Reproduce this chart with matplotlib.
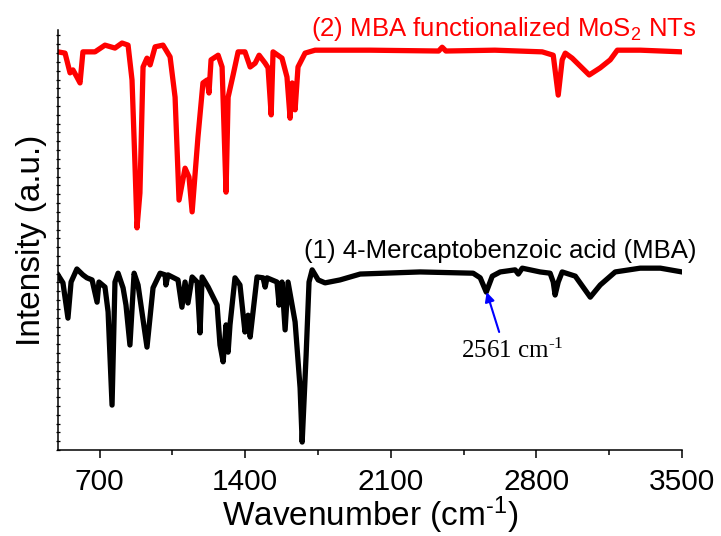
import numpy as np
import matplotlib
matplotlib.use("Agg")
import matplotlib.pyplot as plt
from matplotlib.ticker import MultipleLocator

plt.rcParams['font.family'] = ['Liberation Sans', 'DejaVu Sans']
plt.rcParams['mathtext.default'] = 'regular'

# (2) MBA functionalized MoS2 NTs - wavenumber (cm-1) and intensity (a.u.)
red_wn = [500, 534, 558, 572, 591, 606, 620, 678, 726, 774, 808, 837, 856, 870, 880,
          894, 909, 928, 943, 967, 1005, 1039, 1063, 1082, 1111, 1130, 1145, 1173,
          1197, 1217, 1226, 1236, 1270, 1289, 1308, 1318, 1342, 1366, 1399, 1424,
          1448, 1467, 1496, 1510, 1525, 1534, 1577, 1601, 1616, 1626, 1640, 1654,
          1688, 1736, 2000, 2330, 2347, 2365, 2600, 2828, 2881, 2905, 2924, 2939,
          2972, 3054, 3107, 3155, 3189, 3300, 3500]
red_int = [94.8, 94.5, 89.8, 90.5, 88.8, 87.4, 94.8, 94.8, 96.4, 95.7, 96.9, 96.4,
           88.1, 68.3, 52.9, 61.2, 91.2, 93.3, 91.7, 96.0, 96.4, 93.6, 84.0, 59.5,
           67.1, 65.0, 56.7, 74.5, 87.4, 88.1, 85.0, 92.9, 94.0, 91.2, 61.4, 84.0,
           89.3, 94.8, 94.8, 91.2, 92.1, 94.0, 92.1, 91.0, 79.8, 94.8, 93.3, 88.8,
           79.0, 87.4, 81.0, 91.2, 94.5, 95.2, 95.2, 95.0, 95.9, 95.0, 95.2, 94.8,
           94.0, 84.5, 92.9, 94.5, 93.3, 89.3, 91.0, 92.9, 95.2, 95.2, 94.8]

# (1) 4-Mercaptobenzoic acid (MBA)
blk_wn = [500, 524, 548, 563, 591, 620, 639, 664, 688, 697, 726, 741, 760, 774, 789,
          813, 827, 846, 866, 885, 928, 957, 991, 1015, 1019, 1029, 1077, 1096, 1111,
          1125, 1145, 1169, 1183, 1193, 1222, 1265, 1279, 1294, 1308, 1318, 1327,
          1351, 1375, 1399, 1414, 1424, 1457, 1486, 1496, 1505, 1553, 1563, 1577,
          1592, 1606, 1640, 1664, 1674, 1693, 1707, 1722, 1751, 1784, 1856, 1953,
          2241, 2496, 2530, 2559, 2588, 2626, 2698, 2713, 2732, 2818, 2866, 2881,
          2890, 2905, 2924, 2987, 3059, 3107, 3179, 3299, 3396, 3500]
blk_int = [41.7, 39.8, 31.4, 40.0, 43.1, 41.7, 41.0, 40.5, 35.2, 40.0, 38.8, 32.9,
           10.7, 40.0, 42.1, 38.6, 34.5, 25.0, 42.1, 39.3, 24.5, 38.6, 42.1, 41.7,
           39.3, 41.7, 40.5, 34.0, 40.0, 35.0, 41.2, 40.0, 27.9, 41.2, 38.8, 34.5,
           25.0, 21.0, 29.8, 23.3, 29.8, 41.0, 39.3, 28.1, 32.1, 26.9, 41.2, 41.0,
           38.8, 41.0, 40.0, 34.5, 40.0, 28.6, 40.0, 30.5, 14.8, 1.9, 22.6, 40.0,
           42.9, 40.5, 39.8, 40.5, 41.9, 42.4, 42.1, 41.0, 37.6, 41.4, 42.4, 42.9,
           41.9, 43.3, 42.4, 42.1, 40.0, 36.9, 40.0, 42.4, 41.4, 36.4, 39.3, 42.4,
           43.3, 43.3, 42.4]

xticks = [700, 1400, 2100, 2800, 3500]

fig = plt.figure(figsize=(7.21, 5.36), dpi=100)
ax = fig.add_axes([0.0804, 0.1604, 0.8655, 0.7836])

ax.plot(red_wn, red_int, color='#ff0000', lw=3.8, solid_joinstyle='round')
ax.plot(blk_wn, blk_int, color='black', lw=3.8, solid_joinstyle='round')

ax.set_xlim(500, 3500)
ax.set_ylim(0, 100)
ax.set_xticks(xticks)
ax.xaxis.set_minor_locator(MultipleLocator(350))
ax.set_yticks([])
ax.yaxis.set_minor_locator(MultipleLocator(2.1))
ax.tick_params(axis='x', which='major', direction='out', length=6, width=1.1,
               labelsize=21.5, pad=7)
ax.tick_params(axis='x', which='minor', direction='out', length=3.5, width=1.1)
ax.tick_params(axis='y', which='minor', direction='inout', length=3.5, width=0.9)
for s in ['top', 'right']:
    ax.spines[s].set_visible(False)
for s in ['left', 'bottom']:
    ax.spines[s].set_linewidth(1.1)

ax.set_xlabel('Wavenumber (cm$^{\u20101}$)', fontsize=24, labelpad=-1)
ax.set_ylabel('Intensity (a.u.)', fontsize=24, labelpad=3)

ax.text(1.024, 98.6, '(2) MBA functionalized MoS$_2$ NTs', color='#ff0000',
        fontsize=18.5, ha='right', va='baseline',
        transform=ax.get_yaxis_transform())
ax.text(1.024, 45.7, '(1) 4-Mercaptobenzoic acid (MBA)', color='black',
        fontsize=18.5, ha='right', va='baseline',
        transform=ax.get_yaxis_transform())

ax.text(2684, 21.9, '2561 cm$^{\u20101}$', fontsize=18, family='Liberation Serif',
        ha='center', va='baseline')
ax.annotate('', xy=(2561, 37.6), xytext=(2621, 28.1),
            arrowprops=dict(arrowstyle='-|>', color='blue', lw=1.5,
                            mutation_scale=14, shrinkA=0, shrinkB=0))

fig.savefig('out.png', dpi=100)
